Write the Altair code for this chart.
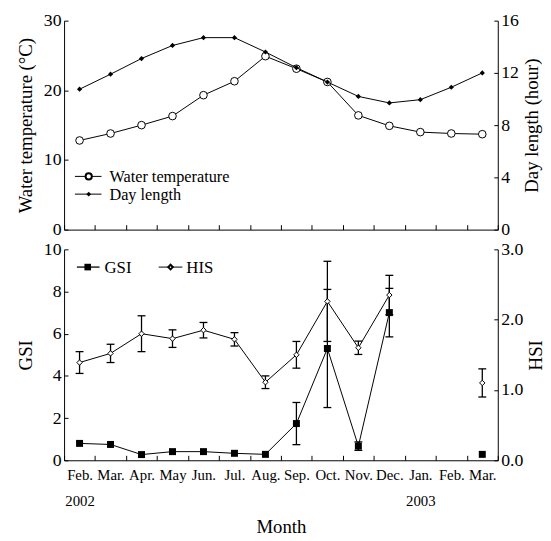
import altair as alt
import pandas as pd

FONT = "Liberation Serif"

# ---- data ----
idx = list(range(1, 15))
months = ["Feb.", "Mar.", "Apr.", "May", "Jun.", "Jul.", "Aug.", "Sep.",
          "Oct.", "Nov.", "Dec.", "Jan.", "Feb.", "Mar."]
years = {1: "2002", 12: "2003"}

water_temp = [12.8, 13.8, 15.0, 16.3, 19.3, 21.3, 24.9, 23.1, 21.2, 16.4, 14.9, 14.0, 13.8, 13.7]
day_length = [10.75, 11.9, 13.1, 14.1, 14.7, 14.7, 13.6, 12.4, 11.3, 10.2, 9.7, 9.95, 10.9, 12.0]

gsi = [0.8, 0.75, 0.27, 0.41, 0.41, 0.33, 0.28, 1.74, 5.3, 0.67, 7.0, None, None, 0.28]
gsi_err = [None, None, None, None, None, None, None, 1.0, 2.8, 0.2, 1.15, None, None, None]
hsi = [1.39, 1.52, 1.80, 1.73, 1.85, 1.72, 1.11, 1.50, 2.26, 1.60, 2.35, None, None, 1.10]
hsi_err = [0.155, 0.13, 0.255, 0.125, 0.11, 0.095, 0.09, 0.19, 0.57, 0.095, 0.28, None, None, 0.2]
segment = [1] * 11 + [2] * 3

df = pd.DataFrame(dict(idx=idx, wt=water_temp, dl=day_length, gsi=gsi, gsi_err=gsi_err,
                       hsi=hsi, hsi_err=hsi_err, seg=segment))

# label expression for the month axis (two-line labels where a year starts)
label_expr = "''"
for i, m in reversed(list(zip(idx, months))):
    lab = f"['{m}', '{years[i]}']" if i in years else f"'{m}'"
    label_expr = f"datum.value == {i} ? {lab} : ({label_expr})"

IN_TICK = {"expr": "-4"}


def x_enc(bottom):
    ax = dict(tickBand="extent", grid=False, domainColor="black", tickColor="black",
              tickSize={"expr": "-5"})
    if bottom:
        ax.update(labels=True, labelExpr=label_expr, labelAngle=0, labelLineHeight=26,
                  labelFontSize=15, labelPadding=13, labelBaseline="top",
                  title="Month", titleFontSize=19, titlePadding=9)
    else:
        ax.update(labels=False, title=None)
    return alt.X("idx:O", scale=alt.Scale(type="band", domain=idx, paddingInner=0, paddingOuter=0),
                 axis=alt.Axis(**ax))


def y_axis(title, values, orient, fmt=None):
    kw = dict(values=values, title=title, orient=orient, grid=False, tickSize=IN_TICK,
              labelPadding=7, domainColor="black", tickColor="black")
    if fmt:
        kw["format"] = fmt
    if orient == "right":
        kw.update(titleAngle=-90, titleBaseline="top", titlePadding=4)
    else:
        kw.update(titlePadding=8)
    return alt.Axis(**kw)


# ---------------- top panel ----------------
base = alt.Chart(df)
ax_wt = y_axis("Water temperature (°C)", [0, 10, 20, 30], "left")
sc_wt = alt.Scale(domain=[0, 30])
ax_dl = y_axis("Day length (hour)", [0, 4, 8, 12, 16], "right")
sc_dl = alt.Scale(domain=[0, 16])

wt_line = base.mark_line(color="black", strokeWidth=1).encode(
    x=x_enc(False), y=alt.Y("wt:Q", scale=sc_wt, axis=ax_wt))
wt_pts = base.mark_point(shape="circle", fill="white", stroke="black", strokeWidth=1,
                         size=60, opacity=1).encode(
    x=x_enc(False), y=alt.Y("wt:Q", scale=sc_wt, axis=ax_wt))
dl_line = base.mark_line(color="black", strokeWidth=1).encode(
    x=x_enc(False), y=alt.Y("dl:Q", scale=sc_dl, axis=ax_dl))
dl_pts = base.mark_point(shape="diamond", filled=True, color="black", size=28, opacity=1).encode(
    x=x_enc(False), y=alt.Y("dl:Q", scale=sc_dl, axis=ax_dl))

top_left = alt.layer(wt_line, wt_pts)
top_right = alt.layer(dl_line, dl_pts)

# legend (top)
leg_top_labels = ["Water temperature", "Day length"]
leg_rows_top = [158, 176]
leg_top = []
for lab, yy, shp in zip(leg_top_labels, leg_rows_top, ["wt", "dl"]):
    d = alt.Data(values=[{"label": lab}])
    leg_top.append(alt.Chart(d).mark_rule(color="black", strokeWidth=1).encode(
        x=alt.value(11), x2=alt.value(38), y=alt.value(yy)))
    if shp == "wt":
        leg_top.append(alt.Chart(d).mark_point(shape="circle", fill="white", stroke="black",
                                               size=40, opacity=1).encode(x=alt.value(25), y=alt.value(yy)))
    else:
        leg_top.append(alt.Chart(d).mark_point(shape="diamond", filled=True, color="black",
                                               size=24, opacity=1).encode(x=alt.value(25), y=alt.value(yy)))
    leg_top.append(alt.Chart(d).mark_text(align="left", baseline="middle", font=FONT, fontSize=16.5,
                                          color="black").encode(
        x=alt.value(46), y=alt.value(yy + 1), text="label:N"))

top = alt.layer(top_left, top_right, *leg_top).resolve_scale(y="independent").properties(
    width=440, height=212)

# ---------------- bottom panel ----------------
ax_gsi = y_axis("GSI", [0, 2, 4, 6, 8, 10], "left")
sc_gsi = alt.Scale(domain=[0, 10])
ax_hsi = y_axis("HSI", [0, 1, 2, 3], "right", fmt=".1f")
sc_hsi = alt.Scale(domain=[0, 3])

gb = alt.Chart(df).transform_filter("isValid(datum.gsi)")
ge = alt.Chart(df).transform_filter("isValid(datum.gsi_err)").transform_calculate(
    lo="datum.gsi - datum.gsi_err", hi="datum.gsi + datum.gsi_err")
hb = alt.Chart(df).transform_filter("isValid(datum.hsi)")
he = alt.Chart(df).transform_filter("isValid(datum.hsi_err)").transform_calculate(
    lo="datum.hsi - datum.hsi_err", hi="datum.hsi + datum.hsi_err")

gsi_layers = alt.layer(
    gb.mark_line(color="black", strokeWidth=1).encode(
        x=x_enc(True), y=alt.Y("gsi:Q", scale=sc_gsi, axis=ax_gsi), detail="seg:N"),
    ge.mark_rule(color="black", strokeWidth=1.3).encode(
        x=x_enc(True), y=alt.Y("lo:Q", scale=sc_gsi, axis=ax_gsi), y2="hi:Q"),
    ge.mark_tick(color="black", size=8, thickness=1.3, opacity=1).encode(
        x=x_enc(True), y=alt.Y("lo:Q", scale=sc_gsi, axis=ax_gsi)),
    ge.mark_tick(color="black", size=8, thickness=1.3, opacity=1).encode(
        x=x_enc(True), y=alt.Y("hi:Q", scale=sc_gsi, axis=ax_gsi)),
    gb.mark_square(color="black", size=50, opacity=1).encode(
        x=x_enc(True), y=alt.Y("gsi:Q", scale=sc_gsi, axis=ax_gsi)),
)
hsi_layers = alt.layer(
    hb.mark_line(color="black", strokeWidth=1).encode(
        x=x_enc(True), y=alt.Y("hsi:Q", scale=sc_hsi, axis=ax_hsi), detail="seg:N"),
    he.mark_rule(color="black", strokeWidth=1.3).encode(
        x=x_enc(True), y=alt.Y("lo:Q", scale=sc_hsi, axis=ax_hsi), y2="hi:Q"),
    he.mark_tick(color="black", size=8, thickness=1.3, opacity=1).encode(
        x=x_enc(True), y=alt.Y("lo:Q", scale=sc_hsi, axis=ax_hsi)),
    he.mark_tick(color="black", size=8, thickness=1.3, opacity=1).encode(
        x=x_enc(True), y=alt.Y("hi:Q", scale=sc_hsi, axis=ax_hsi)),
    hb.mark_point(shape="diamond", fill="white", stroke="black", strokeWidth=1,
                  size=30, opacity=1).encode(
        x=x_enc(True), y=alt.Y("hsi:Q", scale=sc_hsi, axis=ax_hsi)),
)

# legend (bottom)
leg_bot = []
d_g = alt.Data(values=[{"label": "GSI"}])
d_h = alt.Data(values=[{"label": "HIS"}])
leg_bot += [
    alt.Chart(d_g).mark_rule(color="black", strokeWidth=1.3).encode(
        x=alt.value(13), x2=alt.value(36), y=alt.value(18)),
    alt.Chart(d_g).mark_square(color="black", size=45, opacity=1).encode(
        x=alt.value(24), y=alt.value(18)),
    alt.Chart(d_g).mark_text(align="left", baseline="middle", font=FONT, fontSize=17,
                             color="black").encode(x=alt.value(41), y=alt.value(19), text="label:N"),
    alt.Chart(d_h).mark_rule(color="black", strokeWidth=1).encode(
        x=alt.value(96), x2=alt.value(120), y=alt.value(18)),
    alt.Chart(d_h).mark_point(shape="diamond", fill="white", stroke="black", size=22,
                              opacity=1).encode(x=alt.value(108), y=alt.value(18)),
    alt.Chart(d_h).mark_text(align="left", baseline="middle", font=FONT, fontSize=17,
                             color="black").encode(x=alt.value(124), y=alt.value(19), text="label:N"),
]

bottom = alt.layer(gsi_layers, hsi_layers, *leg_bot).resolve_scale(y="independent").properties(
    width=440, height=214)

chart = alt.vconcat(top, bottom, spacing=20, bounds="flush").properties(
    padding={"left": 17, "top": 8, "right": 5, "bottom": 5}
).configure(
    background="white", font=FONT
).configure_axis(
    labelFont=FONT, titleFont=FONT, labelFontSize=18, titleFontSize=19,
    titleFontWeight="normal", labelColor="black", titleColor="black"
).configure_view(stroke=None)

chart.save("out.html", embed_options={"renderer": "svg", "actions": False})
